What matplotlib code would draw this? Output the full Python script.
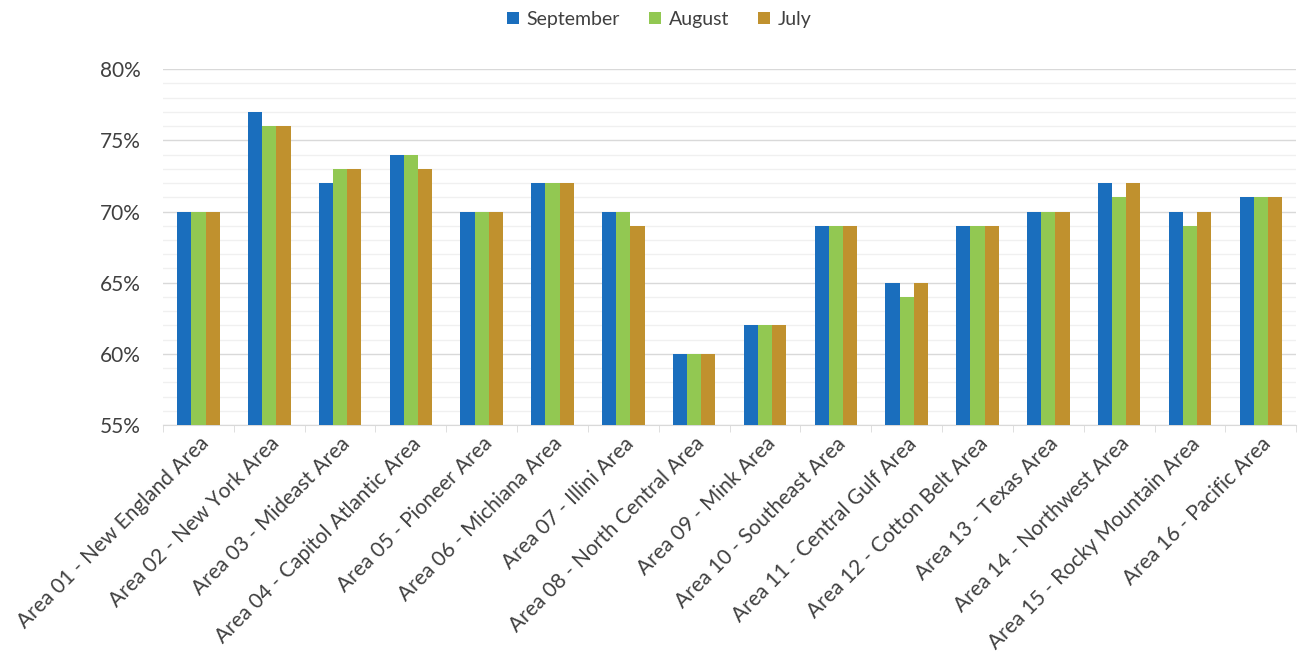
import matplotlib.pyplot as plt
import numpy as np
from matplotlib.ticker import MultipleLocator, FuncFormatter

# data
areas = ["Area 01 - New England Area", "Area 02 - New York Area", "Area 03 - Mideast Area",
         "Area 04 - Capitol Atlantic Area", "Area 05 - Pioneer Area", "Area 06 - Michiana Area",
         "Area 07 - Illini Area", "Area 08 - North Central Area", "Area 09 - Mink Area",
         "Area 10 - Southeast Area", "Area 11 - Central Gulf Area", "Area 12 - Cotton Belt Area",
         "Area 13 - Texas Area", "Area 14 - Northwest Area", "Area 15 - Rocky Mountain Area",
         "Area 16 - Pacific Area"]
september = [70, 77, 72, 74, 70, 72, 70, 60, 62, 69, 65, 69, 70, 72, 70, 71]
august = [70, 76, 73, 74, 70, 72, 70, 60, 62, 69, 64, 69, 70, 71, 69, 71]
july = [70, 76, 73, 73, 70, 72, 69, 60, 62, 69, 65, 69, 70, 72, 70, 71]

plt.rcParams['font.family'] = ['Lato', 'DejaVu Sans']

fig = plt.figure(figsize=(12.98, 6.59), dpi=100)
ax = fig.add_axes([0.1256, 0.355, 0.873, 0.540])

x = np.arange(len(areas))
w = 0.2
ax.bar(x - w, september, w, color='#1a6ebd', label='September', zorder=3)
ax.bar(x, august, w, color='#92c852', label='August', zorder=3)
ax.bar(x + w, july, w, color='#c0912e', label='July', zorder=3)

ax.set_ylim(55, 80)
ax.set_xlim(-0.5, len(areas) - 0.5)
ax.yaxis.set_major_locator(MultipleLocator(5))
ax.yaxis.set_minor_locator(MultipleLocator(1))
ax.yaxis.set_major_formatter(FuncFormatter(lambda v, p: '{:.0f}%'.format(v)))
ax.grid(axis='y', which='major', color='#d9d9d9', linewidth=1, zorder=0)
ax.grid(axis='y', which='minor', color='#f0f0f0', linewidth=1, zorder=0)

for s in ['top', 'right', 'left']:
    ax.spines[s].set_visible(False)
ax.spines['bottom'].set_color('#d9d9d9')

ax.tick_params(axis='y', which='both', length=0, pad=16, labelsize=15, labelcolor='#404040')
ax.set_xticks(x)
ax.set_xticklabels(areas, rotation=45, ha='right', rotation_mode='anchor',
                   fontsize=15, color='#404040')
ax.tick_params(axis='x', which='major', length=0, pad=6)
ax.set_xticks(np.arange(len(areas) + 1) - 0.5, minor=True)
ax.tick_params(axis='x', which='minor', length=5, color='#d9d9d9')

fig.legend(loc='upper center', bbox_to_anchor=(0.508, 1.01), ncol=3, frameon=False,
           fontsize=14, handlelength=0.6, handleheight=0.6, handletextpad=0.4,
           columnspacing=1.5, labelcolor='#404040')

plt.savefig('out.png', dpi=100)
